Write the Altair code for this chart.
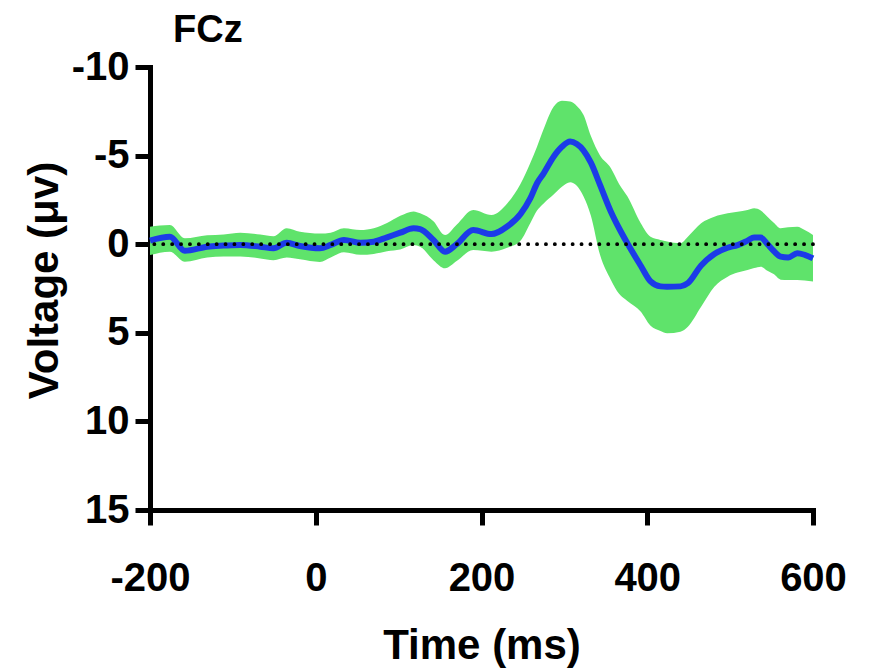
import altair as alt
import pandas as pd

# ---- data ----
time_ms = [-200, -176, -158, -131, -111, -91, -67, -51, -35, -19, 5, 18, 34, 54, 70, 86, 102, 118,
           126, 142, 156, 170, 190, 212, 231, 247, 259, 267,
           275, 287, 297, 307, 315, 323, 332, 343, 356, 366,
           376, 392, 404, 416, 424, 440, 449, 465, 481, 497,
           509, 521, 529, 537, 545, 553, 561, 570, 581, 590,
           600]
voltage = [-0.2, -0.42, 0.37, 0.14, 0.08, 0.04, 0.14, 0.23, -0.08, 0.1, 0.23, 0.04, -0.24, -0.08, -0.14, -0.39, -0.65, -0.9,
           -0.85, -0.24, 0.42, 0.0, -0.8, -0.57, -1.0, -1.7, -2.6, -3.44,
           -4.0, -4.94, -5.5, -5.79, -5.65, -5.3, -4.6, -3.35, -1.85, -0.9,
           -0.05, 1.2, 2.1, 2.38, 2.4, 2.38, 2.2, 1.2, 0.55, 0.2,
           0.05, -0.2, -0.38, -0.38, 0.0, 0.4, 0.7, 0.75, 0.51, 0.6,
           0.8]
band_top = [-0.99, -1.08, -0.33, -0.5, -0.55, -0.65, -0.55, -0.45, -0.9, -0.7, -0.6, -0.65, -0.9, -0.8, -0.9, -1.2, -1.6, -1.85,
            -1.74, -1.3, -0.52, -1.1, -1.93, -1.65, -2.3, -3.4, -4.6, -5.5,
            -6.5, -7.76, -8.1, -8.05, -7.8, -7.3, -6.1, -5.0, -4.3, -3.4,
            -2.7, -1.2, -0.42, -0.24, -0.15, -0.05, -0.42, -1.18, -1.55, -1.74,
            -1.83, -1.93, -2.03, -1.9, -1.55, -1.2, -0.9, -0.95, -0.99, -0.8,
            -0.52]
band_bottom = [0.61, 0.42, 0.99, 0.75, 0.7, 0.7, 0.8, 0.9, 0.75, 0.85, 1.0, 0.75, 0.45, 0.6, 0.55, 0.4, 0.3, 0.05,
               0.14, 0.9, 1.36, 0.95, 0.33, 0.42, 0.2, -0.2, -1.2, -1.9,
               -2.3, -2.8, -3.24, -3.5, -3.3, -2.7, -1.6, 0.6, 2.0, 2.8,
               3.2, 3.8, 4.6, 4.9, 5.03, 4.94, 4.66, 3.53, 2.4, 1.83,
               1.6, 1.46, 1.35, 1.27, 1.5, 1.7, 2.0, 2.02, 2.02, 2.05,
               2.1]
x_ticks = [-200, 0, 200, 400, 600]
y_ticks = [-10, -5, 0, 5, 10, 15]
panel_title = "FCz"
x_title = "Time (ms)"
y_title = "Voltage (\u03bcv)"

df = pd.DataFrame({"t": time_ms, "v": voltage, "lo": band_top, "hi": band_bottom})

FONT = "Liberation Sans"
W, H = 663, 443

xscale = alt.Scale(domain=[-200, 600], nice=False, zero=False)
yscale = alt.Scale(domain=[-10, 15], nice=False, zero=False, reverse=True)

label_expr = "datum.value < 0 ? '-' + abs(datum.value) : '' + datum.value"

x_axis = alt.Axis(values=x_ticks, title=x_title, labelExpr=label_expr,
                  labelPadding=33, titleY=148, titleBaseline="alphabetic",
                  titleX=W / 2, titleAlign="center", titleFontSize=42)
y_axis = alt.Axis(values=y_ticks, title=y_title, labelExpr=label_expr,
                  labelPadding=6, titleX=-93, titleY=213, titleAngle=270,
                  titleBaseline="alphabetic", titleAlign="center", titleFontSize=42)

band = alt.Chart(df).mark_area(color="#5fe36b", opacity=1, interpolate="monotone").encode(
    x=alt.X("t:Q", scale=xscale, axis=x_axis),
    y=alt.Y("lo:Q", scale=yscale, axis=y_axis),
    y2="hi:Q",
)
line = alt.Chart(df).mark_line(color="#1c3be8", strokeWidth=6, interpolate="monotone").encode(
    x=alt.X("t:Q", scale=xscale),
    y=alt.Y("v:Q", scale=yscale),
)
zero = alt.Chart(alt.Data(values=[{"z": 0}])).mark_rule(
    color="black", strokeWidth=3.8, strokeDash=[0.1, 8.8], strokeCap="round"
).encode(y=alt.Y("z:Q", scale=yscale))
title_txt = alt.Chart(alt.Data(values=[{"s": panel_title}])).mark_text(
    align="left", baseline="alphabetic", font=FONT, fontSize=38, fontWeight="bold", color="black"
).encode(x=alt.value(23), y=alt.value(-25), text="s:N")

chart = alt.layer(band, line, zero, title_txt).properties(
    width=W, height=H,
    autosize=alt.AutoSizeParams(type="none"),
    padding={"left": 142, "top": 59, "right": 40, "bottom": 160},
).configure_view(stroke=None).configure_axis(
    grid=False,
    domainColor="black", domainWidth=5, domainCap="square",
    tickColor="black", tickWidth=5, tickSize=15,
    labelFont=FONT, labelFontSize=40, labelFontWeight="bold", labelColor="black",
    titleFont=FONT, titleFontWeight="bold", titleColor="black",
    labelOverlap=False, labelFlush=False,
)

chart.save("out.html", embed_options={"renderer": "svg", "actions": False})
